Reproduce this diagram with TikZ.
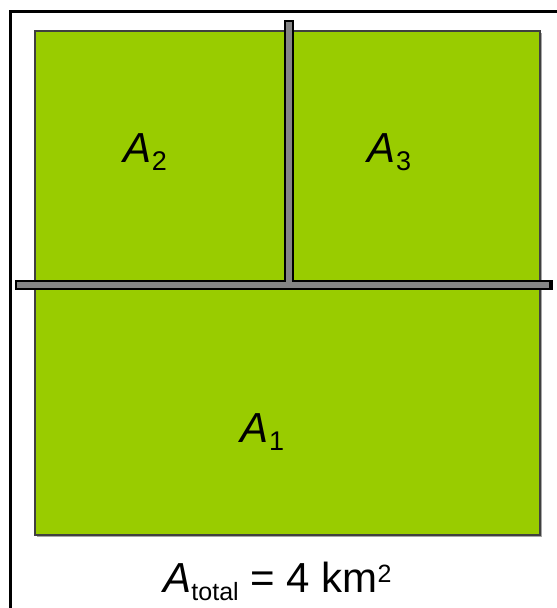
\documentclass[tikz,border=0pt]{standalone}
\usepackage{fontspec}
\setmainfont{Liberation Sans}
\definecolor{field}{HTML}{99CC00}
\definecolor{roadgray}{HTML}{858585}
\newcommand{\lbl}[2]{{\itshape A}\raisebox{-8pt}{\fontsize{27}{27}\selectfont #2}}
\begin{document}
\begin{tikzpicture}[x=1pt,y=-1pt,
  areabox/.style={fill=field, draw=black!75, line width=1.5pt},
  roadedge/.style={draw=black, line width=10.5pt},
  roadcore/.style={draw=roadgray, line width=5.5pt},
  lab/.style={inner sep=0pt, anchor=base, font=\fontsize{42}{42}\selectfont}]
\useasboundingbox (0,0) rectangle (557,608);
\clip (0,0) rectangle (557,608);
% outer frame
\draw[line width=3pt] (10.5,11.5) rectangle (580,640);
% shadow + field
\fill[black!35] (37,33) rectangle (542,537);
\draw[areabox] (35,31) rectangle (540,535);
% roads
\coordinate (hL) at (15,285);
\coordinate (hR) at (553,285);
\coordinate (vT) at (289,20);
\coordinate (vB) at (289,285);
\draw[roadedge] (hL) -- (hR);
\draw[roadedge] (vT) -- (vB);
\draw[roadcore] ([xshift=2pt]hL) -- ([xshift=-4pt]hR);
\draw[roadcore] ([yshift=-2pt]vT) -- (vB);
% labels
\node[lab] (a2) at (145.5,162) {\lbl{A}{2}};
\node[lab] (a3) at (389.5,162) {\lbl{A}{3}};
\node[lab] (a1) at (262.5,442) {\lbl{A}{1}};
\node[lab] (at) at (277.5,592) {{\itshape A}\raisebox{-8pt}{\fontsize{25}{25}\selectfont total} = 4 km\raisebox{10pt}{\fontsize{25}{25}\selectfont 2}};
\end{tikzpicture}
\end{document}
